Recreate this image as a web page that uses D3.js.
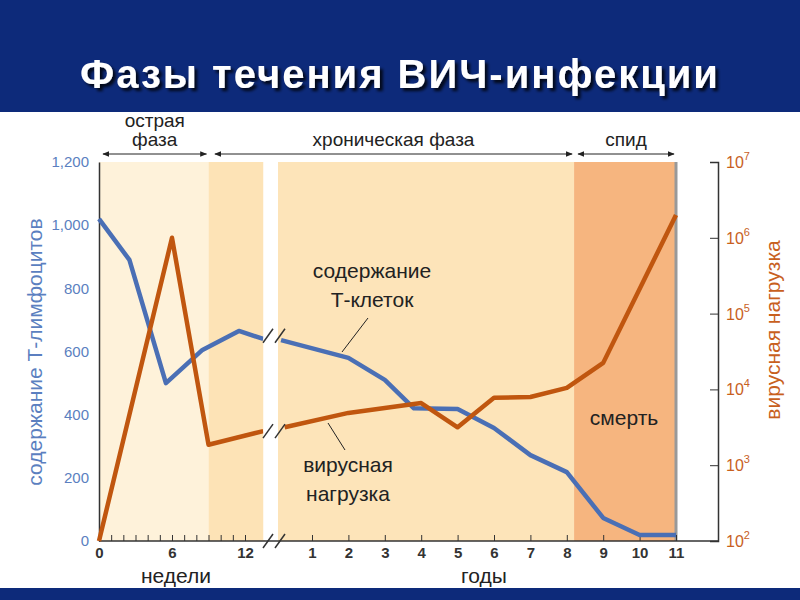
<!DOCTYPE html><html><head><meta charset="utf-8">
<script src="https://cdn.jsdelivr.net/npm/d3@7"></script>
<style>body{margin:0;background:#fff}svg{display:block;font-family:"Liberation Sans",Arial,sans-serif}</style></head><body>
<script>
// data: t in weeks (seg "w") or years (seg "y")
const tcells = [
 {seg:"w",t:0,v:1020},{seg:"w",t:2.5,v:890},{seg:"w",t:5.5,v:500},{seg:"w",t:8.5,v:605},{seg:"w",t:11.5,v:665},{seg:"w",t:13.5,v:640},
 {seg:"y",t:0.15,v:636},{seg:"y",t:2,v:580},{seg:"y",t:3,v:510},{seg:"y",t:3.8,v:420},{seg:"y",t:5,v:418},{seg:"y",t:6,v:358},
 {seg:"y",t:7,v:272},{seg:"y",t:8,v:218},{seg:"y",t:9,v:73},{seg:"y",t:10,v:19},{seg:"y",t:11,v:19}];
const viral = [
 {seg:"w",t:0,v:2},{seg:"w",t:6,v:6},{seg:"w",t:9,v:3.27},{seg:"w",t:13.5,v:3.45},
 {seg:"y",t:0.25,v:3.5},{seg:"y",t:2,v:3.69},{seg:"y",t:4,v:3.82},{seg:"y",t:5,v:3.5},{seg:"y",t:6,v:3.89},
 {seg:"y",t:7,v:3.9},{seg:"y",t:8,v:4.02},{seg:"y",t:9,v:4.35},{seg:"y",t:11,v:6.3}]; // log10
const leftTicks = [0,200,400,600,800,1000,1200];
const leftLabels = ["0","200","400","600","800","1,000","1,200"];
const rightTicks = [2,3,4,5,6,7];
const weekTicks = [0,6,12];
const yearTicks = [1,2,3,4,5,6,7,8,9,10,11];
const phases = [{name:"острая\nфаза",a:["w",0],b:["w",9]},{name:"хроническая фаза",a:["w",9.2],b:["y",8.2]},{name:"спид",a:["y",8.2],b:["y",11]}];

const W=800,H=600;
const svg=d3.select("body").append("svg").attr("width",W).attr("height",H);
const xw=d3.scaleLinear().domain([0,12]).range([99,245]);
const xy=d3.scaleLinear().domain([1,11]).range([312,676]);
const X=d=>d.seg==="w"?xw(d.t):xy(d.t);
const yL=d3.scaleLinear().domain([0,1200]).range([541,162]);
const yR=d3.scaleLinear().domain([2,7]).range([541,162]);

const defs=svg.append("defs");
const f=defs.append("filter").attr("id","sh").attr("x","-10%").attr("y","-20%").attr("width","120%").attr("height","150%");
f.append("feDropShadow").attr("dx",3).attr("dy",3).attr("stdDeviation",1.5).attr("flood-color","#000").attr("flood-opacity",0.8);

// header
svg.append("rect").attr("width",W).attr("height",112).attr("fill","#0d2a7a");
svg.append("rect").attr("y",588).attr("width",W).attr("height",12).attr("fill","#0d2a7a");
svg.append("text").attr("x",400).attr("y",88).attr("text-anchor","middle").attr("font-size",40).attr("font-weight","bold").attr("letter-spacing",2).attr("fill","#fff").attr("filter","url(#sh)").text("Фазы течения ВИЧ-инфекции");

// backgrounds
const bg=[[99,xw(9),"#fef2da"],[xw(9),265,"#fde3b6"],[278,xy(8.2),"#fde4b9"],[xy(8.2),676,"#f6b57f"]];
bg.forEach(b=>svg.append("rect").attr("x",b[0]).attr("y",162).attr("width",b[1]-b[0]).attr("height",379).attr("fill",b[2]));
svg.append("line").attr("x1",676).attr("x2",676).attr("y1",162).attr("y2",541).attr("stroke","#999").attr("stroke-width",3);

// axes
const gL=svg.append("g").attr("transform","translate(99,0)").call(d3.axisLeft(yL).tickValues(leftTicks).tickFormat((d,i)=>leftLabels[i]).tickSize(0).tickPadding(10));
gL.selectAll("text").attr("fill","#5b7fc0").attr("font-size",15);
gL.select(".domain").attr("stroke","#333").attr("stroke-width",1.5);
const gR=svg.append("g").attr("transform","translate(718,0)").call(d3.axisRight(yR).tickValues(rightTicks).tickFormat("").tickSize(-8));
gR.select(".domain").attr("stroke","#333").attr("stroke-width",1.5);gR.selectAll("line").attr("stroke","#333");
rightTicks.forEach(p=>{const t=svg.append("text").attr("x",726).attr("y",yR(p)+6).attr("fill","#c8601e").attr("font-size",16);
 t.append("tspan").text("10");t.append("tspan").attr("dy",-8).attr("font-size",11).text(p);});
svg.append("line").attr("x1",99).attr("x2",718).attr("y1",541).attr("y2",541).attr("stroke","#333").attr("stroke-width",1.5);
const gW=svg.append("g").attr("transform","translate(0,541)").call(d3.axisBottom(xw).tickValues(d3.range(0,13)).tickSize(-6).tickFormat(d=>weekTicks.includes(d)?d:""));
gW.select(".domain").remove();
const gY=svg.append("g").attr("transform","translate(0,541)").call(d3.axisBottom(xy).tickValues(yearTicks).tickSize(-6));
gY.select(".domain").remove();
[gW,gY].forEach(g=>{g.selectAll("line").attr("stroke","#333");g.selectAll("text").attr("fill","#333").attr("font-size",15).attr("font-weight","bold").attr("dy","0.9em");});
svg.append("text").attr("x",176).attr("y",583).attr("text-anchor","middle").attr("font-size",21).attr("fill","#222").text("недели");
svg.append("text").attr("x",484).attr("y",583).attr("text-anchor","middle").attr("font-size",21).attr("fill","#222").text("годы");
svg.append("text").attr("transform","translate(42,352) rotate(-90)").attr("text-anchor","middle").attr("font-size",21).attr("fill","#5b7fc0").text("содержание Т-лимфоцитов");
svg.append("text").attr("transform","translate(780,330) rotate(-90)").attr("text-anchor","middle").attr("font-size",21).attr("fill","#c8601e").text("вирусная нагрузка");

// lines (segments split at break)
const drawLine=(data,yf,col)=>["w","y"].forEach(s=>svg.append("path").datum(data.filter(d=>d.seg===s))
 .attr("d",d3.line().x(X).y(d=>yf(d.v))).attr("fill","none").attr("stroke",col).attr("stroke-width",4.5).attr("stroke-linejoin","round"));
drawLine(tcells,yL,"#4a6fb5");
drawLine(viral,yR,"#c0560f");
// break gap + marks
svg.append("rect").attr("x",xw(13.5)).attr("y",162).attr("width",278-xw(13.5)).attr("height",378).attr("fill","#fff");
[yL(650),yR(3.45),541].forEach(y=>[0,12].forEach(dx=>svg.append("line").attr("x1",263+dx).attr("x2",273+dx).attr("y1",y+7).attr("y2",y-7).attr("stroke","#333").attr("stroke-width",1.5)));

// phase arrows
defs.append("marker").attr("id","ar").attr("viewBox","0 0 10 10").attr("refX",9).attr("refY",5).attr("markerWidth",7).attr("markerHeight",7).attr("orient","auto-start-reverse").append("path").attr("d","M0,1L10,5L0,9z").attr("fill","#222");
phases.forEach(p=>{const x1=X({seg:p.a[0],t:p.a[1]})+4,x2=X({seg:p.b[0],t:p.b[1]})-2;
 svg.append("line").attr("x1",x1).attr("x2",x2).attr("y1",154).attr("y2",154).attr("stroke","#222").attr("stroke-width",1).attr("marker-start","url(#ar)").attr("marker-end","url(#ar)");
 const ls=p.name.split("\n");ls.forEach((l,i)=>svg.append("text").attr("x",(x1+x2)/2).attr("y",146-(ls.length-1-i)*19).attr("text-anchor","middle").attr("font-size",19).attr("fill","#222").text(l));});

// annotations
const ann=(lines,x,y)=>lines.forEach((l,i)=>svg.append("text").attr("x",x).attr("y",y+i*29).attr("text-anchor","middle").attr("font-size",21).attr("fill","#222").text(l));
ann(["содержание","Т-клеток"],372,278);
svg.append("line").attr("x1",368).attr("y1",318).attr("x2",342).attr("y2",352).attr("stroke","#222");
ann(["вирусная","нагрузка"],348,472);
svg.append("line").attr("x1",345).attr("y1",450).attr("x2",328).attr("y2",423).attr("stroke","#222");
ann(["смерть"],624,425);
</script></body></html>
